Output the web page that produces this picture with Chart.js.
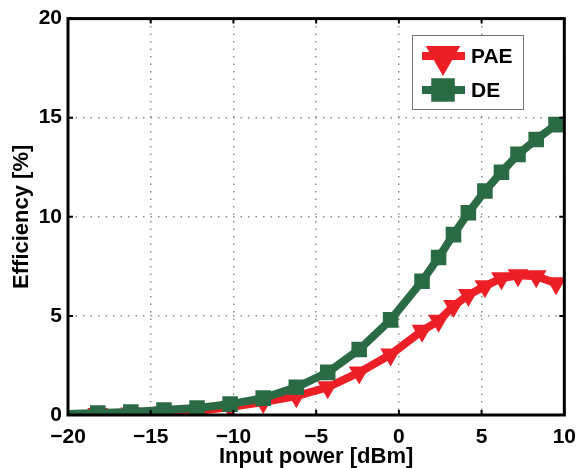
<!DOCTYPE html>
<html lang="en">
<head>
    <meta charset="UTF-8">
    <title>Efficiency vs input power</title>
    <script src="https://cdn.jsdelivr.net/npm/chart.js"></script>
    <style>
        body { margin: 0; background: #fff; }
    </style>
</head>
<body>
    <canvas id="effChart" width="586" height="468"></canvas>

    <script>
        // measured sweep
        const inputPower = [-20, -18.2, -16.2, -14.2, -12.2, -10.2, -8.2, -6.2, -4.3, -2.4, -0.5, 1.4, 2.4, 3.3, 4.2, 5.2, 6.2, 7.2, 8.3, 9.5];
        const paeValues = [0.02, 0.05, 0.08, 0.12, 0.2, 0.4, 0.65, 0.95, 1.4, 2.15, 3.05, 4.25, 4.75, 5.5, 6.05, 6.5, 6.9, 7.05, 7.0, 6.65];
        const deValues = [0.05, 0.1, 0.15, 0.25, 0.35, 0.55, 0.85, 1.4, 2.15, 3.3, 4.8, 6.75, 7.95, 9.1, 10.2, 11.3, 12.25, 13.15, 13.9, 14.65];
        const seriesNames = ['PAE', 'DE'];
        const xTicks = [-20, -15, -10, -5, 0, 5, 10];
        const yTicks = [0, 5, 10, 15, 20];

        const RED = '#ec1f26';
        const GREEN = '#2a6b45';
        const FONT = "'Liberation Sans', Arial, Helvetica, sans-serif";

        const toPoints = vals => vals.map((v, i) => ({ x: inputPower[i], y: v }));
        const fmt = v => String(v).replace('-', '\u2212');
        // first sample sits on the axis, no marker there
        const markerSize = r => ctx => ctx.dataIndex === 0 ? 0 : r;

        // black box around the plot with inward tick marks
        const axesBox = {
            id: 'axesBox',
            afterDatasetsDraw(chart) {
                const { ctx, chartArea: a, scales } = chart;
                ctx.save();
                ctx.strokeStyle = '#000';
                ctx.lineWidth = 2;
                const len = 5;
                xTicks.forEach(t => {
                    const px = scales.x.getPixelForValue(t);
                    ctx.beginPath();
                    ctx.moveTo(px, a.bottom); ctx.lineTo(px, a.bottom - len);
                    ctx.moveTo(px, a.top); ctx.lineTo(px, a.top + len);
                    ctx.stroke();
                });
                yTicks.forEach(t => {
                    const py = scales.y.getPixelForValue(t);
                    ctx.beginPath();
                    ctx.moveTo(a.left, py); ctx.lineTo(a.left + len, py);
                    ctx.moveTo(a.right, py); ctx.lineTo(a.right - len, py);
                    ctx.stroke();
                });
                ctx.lineWidth = 3;
                ctx.strokeRect(a.left, a.top, a.right - a.left, a.bottom - a.top);
                ctx.restore();
            }
        };

        // legend box in the upper right of the plot
        const insetLegend = {
            id: 'insetLegend',
            afterDraw(chart) {
                const { ctx } = chart;
                const bx = 412, by = 35, bw = 111, bh = 74;
                ctx.save();
                ctx.fillStyle = '#fff';
                ctx.fillRect(bx, by, bw, bh);
                ctx.strokeStyle = '#777';
                ctx.lineWidth = 1;
                ctx.strokeRect(bx + 0.5, by + 0.5, bw, bh);
                chart.data.datasets.forEach((ds, i) => {
                    const y = by + 21 + i * 34;
                    ctx.strokeStyle = ds.borderColor;
                    ctx.lineWidth = 8;
                    ctx.beginPath();
                    ctx.moveTo(bx + 10, y);
                    ctx.lineTo(bx + 53, y);
                    ctx.stroke();
                    Chart.helpers.drawPoint(ctx, {
                        pointStyle: ds.pointStyle,
                        rotation: ds.pointRotation || 0,
                        radius: ds.legendRadius,
                        borderWidth: 1
                    }, bx + 31, y);
                    ctx.fillStyle = ds.borderColor;
                    ctx.fill();
                    ctx.fillStyle = '#000';
                    ctx.font = 'bold 21px ' + FONT;
                    ctx.textBaseline = 'middle';
                    ctx.fillText(ds.label, bx + 59, y + 1);
                });
                ctx.restore();
            }
        };

        const ctx = document.getElementById('effChart').getContext('2d');
        new Chart(ctx, {
            type: 'line',
            data: {
                datasets: [{
                    label: seriesNames[0],
                    data: toPoints(paeValues),
                    borderColor: RED,
                    backgroundColor: RED,
                    borderWidth: 8,
                    pointStyle: 'triangle',
                    pointRotation: 180,
                    pointRadius: markerSize(12),
                    legendRadius: 12,
                    pointBorderWidth: 0,
                    order: 2
                }, {
                    label: seriesNames[1],
                    data: toPoints(deValues),
                    borderColor: GREEN,
                    backgroundColor: GREEN,
                    borderWidth: 8,
                    pointStyle: 'rect',
                    pointRadius: markerSize(11),
                    legendRadius: 11,
                    pointBorderWidth: 0,
                    order: 1
                }]
            },
            options: {
                responsive: false,
                animation: false,
                layout: { padding: { top: 17, right: 15, left: 0, bottom: 0 } },
                plugins: {
                    legend: { display: false },
                    tooltip: { enabled: false }
                },
                scales: {
                    x: {
                        type: 'linear',
                        min: -20,
                        max: 10,
                        afterBuildTicks: s => { s.ticks = xTicks.map(v => ({ value: v })); },
                        afterFit: s => { s.height = 53; },
                        grid: { color: '#8a8a8a', lineWidth: 1.5, drawTicks: false },
                        border: { display: false, dash: [1.5, 6] },
                        ticks: {
                            padding: 10,
                            color: '#000',
                            font: { family: FONT, size: 21, weight: 'bold' },
                            callback: v => fmt(v)
                        },
                        title: {
                            display: true,
                            text: 'Input power [dBm]',
                            color: '#000',
                            font: { family: FONT, size: 22, weight: 'bold' },
                            padding: { top: 0, bottom: -2 }
                        }
                    },
                    y: {
                        min: 0,
                        max: 20,
                        afterBuildTicks: s => { s.ticks = yTicks.map(v => ({ value: v })); },
                        afterFit: s => { s.width = 68; },
                        grid: { color: '#8a8a8a', lineWidth: 1.5, drawTicks: false },
                        border: { display: false, dash: [1.5, 6] },
                        ticks: {
                            padding: 6,
                            color: '#000',
                            font: { family: FONT, size: 21, weight: 'bold' },
                            callback: v => fmt(v)
                        },
                        title: {
                            display: true,
                            text: 'Efficiency [%]',
                            color: '#000',
                            font: { family: FONT, size: 22, weight: 'bold' },
                            padding: { top: 9, bottom: 0 }
                        }
                    }
                }
            },
            plugins: [axesBox, insetLegend]
        });
    </script>
</body>
</html>
